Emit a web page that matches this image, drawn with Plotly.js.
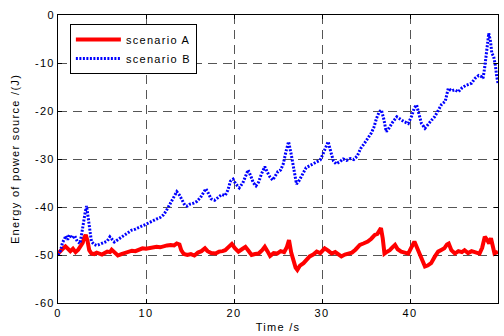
<!DOCTYPE html>
<html>
<head>
<meta charset="utf-8">
<script src="https://cdn.plot.ly/plotly-3.0.1.min.js"></script>
<style>
html,body{margin:0;padding:0;background:#fff;}
text{letter-spacing:1.3px;}
</style>
</head>
<body>
<div id="chart" style="width:504px;height:336px;"></div>
<script>
// scenario B (blue, dotted)
var timeB = [0,0.3,0.5,0.7,0.9,1.1,1.3,1.6,1.9,2.2,2.5,2.7,2.9,3.1,3.25,3.4,3.6,3.8,4.1,4.4,4.7,5.0,5.3,5.6,5.9,6.1,6.4,6.8,7.2,7.6,8.0,8.4,8.8,9.2,9.6,10.0,10.4,10.8,11.2,11.6,12.0,12.3,12.6,12.9,13.2,13.5,13.8,14.1,14.4,14.7,15.0,15.4,15.8,16.2,16.5,16.8,17.1,17.4,17.8,18.2,18.6,19.0,19.3,19.6,19.9,20.2,20.6,21.0,21.3,21.6,21.9,22.2,22.5,22.8,23.1,23.5,23.8,24.1,24.4,24.7,25.0,25.3,25.6,25.9,26.2,26.5,26.8,27.1,27.4,27.8,28.2,28.6,29.0,29.4,29.8,30.1,30.4,30.7,31.0,31.3,31.6,32.0,32.4,32.8,33.2,33.6,34.0,34.4,34.8,35.2,35.6,35.9,36.2,36.5,36.75,37.0,37.3,37.6,38.0,38.5,38.9,39.3,39.8,40.2,40.5,40.75,41.0,41.3,41.7,42.1,42.5,42.8,43.2,43.6,44.0,44.35,44.7,45.1,45.5,45.9,46.3,46.7,47.0,47.4,47.8,48.1,48.3,48.5,48.7,48.95,49.15,49.3,49.5,49.7,49.85,50.0];
var energyB = [-50,-49,-47.5,-46.8,-46,-46.8,-45.8,-46.5,-46,-47.2,-47.6,-45.5,-43,-41,-39.8,-42,-45.5,-47.2,-47.8,-48,-47.8,-47.6,-47.3,-47.1,-46.2,-46.6,-47.3,-46.8,-46.2,-45.8,-45.3,-44.8,-44.6,-44.2,-43.9,-43.6,-43.2,-42.8,-42.5,-42.2,-41.6,-40.8,-39.8,-38.8,-38,-36.8,-37.5,-38.6,-39.6,-39.8,-39.4,-39.2,-38.8,-38,-37,-36.2,-37.2,-38.3,-38.6,-38,-37.4,-37.6,-36.5,-34.6,-34.2,-35.2,-36,-35,-33.5,-32.3,-33.5,-35,-35.6,-34.8,-33.2,-31.6,-32.8,-33.8,-34.4,-33.6,-32.6,-32.3,-31,-28.5,-26.4,-29,-32.5,-35.2,-34.5,-33.2,-31.8,-31.4,-31,-30.6,-30.2,-29,-27.5,-26.4,-28.5,-30.4,-31,-30.6,-30,-30.3,-29.9,-30.1,-29.4,-27.8,-26.8,-25.8,-24.6,-23.4,-21.5,-20.2,-19.8,-21.5,-24.3,-23.6,-22.4,-21.2,-21.8,-22.2,-22.6,-21,-19.3,-18.75,-20.5,-22.6,-23.6,-22.6,-21.8,-21.2,-20,-18.6,-18,-15.3,-15.8,-15.6,-16,-15.2,-14.7,-14.4,-14.2,-13.2,-12.6,-12.8,-13.2,-10.8,-7.5,-3.8,-5.5,-8,-8.6,-10.5,-12.8,-14.2];

// scenario A (red, solid)
var timeA = [0,0.3,0.6,0.85,1.1,1.4,1.7,2.0,2.3,2.55,2.8,3.0,3.15,3.35,3.55,3.8,4.1,4.4,4.7,5.0,5.3,5.6,5.9,6.1,6.4,6.8,7.2,7.6,8.0,8.4,8.8,9.2,9.6,10.0,10.4,10.8,11.2,11.6,12.0,12.4,12.8,13.2,13.5,13.8,14.0,14.3,14.7,15.1,15.5,15.9,16.3,16.7,17.0,17.4,17.9,18.3,18.7,19.0,19.4,19.75,20.1,20.5,20.9,21.3,21.6,22.0,22.4,22.8,23.2,23.5,23.8,24.1,24.5,24.9,25.3,25.7,26.0,26.25,26.5,26.75,27.0,27.2,27.5,27.9,28.3,28.6,29.0,29.4,29.8,30.3,30.7,31.1,31.5,31.9,32.2,32.6,33.0,33.4,33.8,34.3,34.7,35.2,35.6,36.0,36.3,36.7,36.9,37.1,37.4,37.7,38.0,38.3,38.6,39.0,39.4,39.8,40.1,40.5,40.8,41.1,41.4,41.7,42.0,42.4,42.8,43.2,43.6,43.9,44.2,44.4,44.7,45.1,45.5,45.9,46.2,46.6,47.0,47.3,47.6,47.9,48.2,48.5,48.75,49.0,49.2,49.4,49.6,49.8,50.0];
var energyA = [-49.7,-49,-48.6,-48.2,-48.8,-49.2,-48.7,-49.4,-48.9,-48.2,-47.5,-46.3,-45.8,-47,-49,-49.7,-49.8,-49.5,-49.6,-49.9,-49.6,-49.3,-49.4,-48.9,-49.4,-50.1,-49.8,-49.5,-49.3,-49.1,-49.2,-48.8,-48.6,-48.7,-48.5,-48.4,-48.3,-48.4,-48.1,-48,-47.9,-48,-47.6,-47.8,-49,-49.8,-50,-49.8,-50.1,-49.5,-49.2,-48.6,-49.2,-49.6,-49.7,-49.3,-49.2,-49,-48.3,-47.7,-48.6,-49.3,-48.8,-48.3,-49,-50,-49.8,-49.7,-49,-48.3,-49.2,-50.2,-49.6,-49.7,-49.2,-49.4,-48.4,-46.9,-49.5,-51.2,-52.6,-53.1,-52.2,-51.7,-51,-50.3,-49.9,-49.3,-49.6,-48.6,-49.1,-49.7,-49.4,-50,-50.3,-49.9,-49.8,-49.5,-48.9,-47.9,-47.6,-47.2,-46.6,-45.8,-45.6,-44.4,-46.5,-49.7,-49.3,-49,-48.4,-47.9,-48.8,-49.3,-49.5,-49.7,-48.6,-47.2,-48.5,-49.7,-51.2,-52.4,-52.2,-51.7,-50.4,-49.3,-48.9,-48.6,-47.8,-47.6,-49,-49.7,-49.2,-49.4,-49,-49.6,-49.2,-49.3,-49.5,-49.7,-48.5,-46.2,-46.8,-47.6,-46.5,-47.8,-49.7,-49.5,-49.3];

var xTicks = [0,10,20,30,40,50];
var yTicks = [-60,-50,-40,-30,-20,-10,0];

var traces = [
  {x: timeA, y: energyA, type: 'scatter', mode: 'lines', name: 'scenario A',
   line: {color: '#ff0000', width: 4}},
  {x: timeB, y: energyB, type: 'scatter', mode: 'lines', name: 'scenario B',
   line: {color: '#0000ff', width: 3, dash: '2px,1.5px'}}
];

var axisCommon = {
  ticks: 'inside', ticklen: 4, tickcolor: '#000', tickwidth: 1,
  showline: true, linecolor: '#000', linewidth: 1, mirror: 'ticks',
  showgrid: true, gridcolor: '#555', gridwidth: 1, griddash: '9px,6px',
  zeroline: false, automargin: false,
  tickfont: {family: 'Liberation Sans, Arial, sans-serif', size: 11, color: '#000'}
};

var layout = {
  width: 504, height: 336,
  margin: {l: 58, r: 6, t: 15, b: 33},
  paper_bgcolor: '#fff', plot_bgcolor: '#fff',
  font: {family: 'Liberation Sans, Arial, sans-serif', size: 11, color: '#000'},
  xaxis: Object.assign({}, axisCommon, {
    range: [0, 50], tickvals: xTicks, ticktext: xTicks.map(String),
    title: {text: 'Time /s', standoff: 5, font: {size: 11}}
  }),
  yaxis: Object.assign({}, axisCommon, {
    range: [-60, 0], tickvals: yTicks, ticktext: yTicks.map(String),
    title: {text: 'Energy of power source /(J)', standoff: 13, font: {size: 11}}
  }),
  showlegend: true,
  legend: {
    x: 0.027, y: 0.969, xanchor: 'left', yanchor: 'top',
    bgcolor: '#fff', bordercolor: '#000', borderwidth: 1,
    font: {size: 11}, itemwidth: 45, tracegroupgap: 0
  }
};

Plotly.newPlot('chart', traces, layout, {staticPlot: true, displayModeBar: false});
</script>
</body>
</html>
